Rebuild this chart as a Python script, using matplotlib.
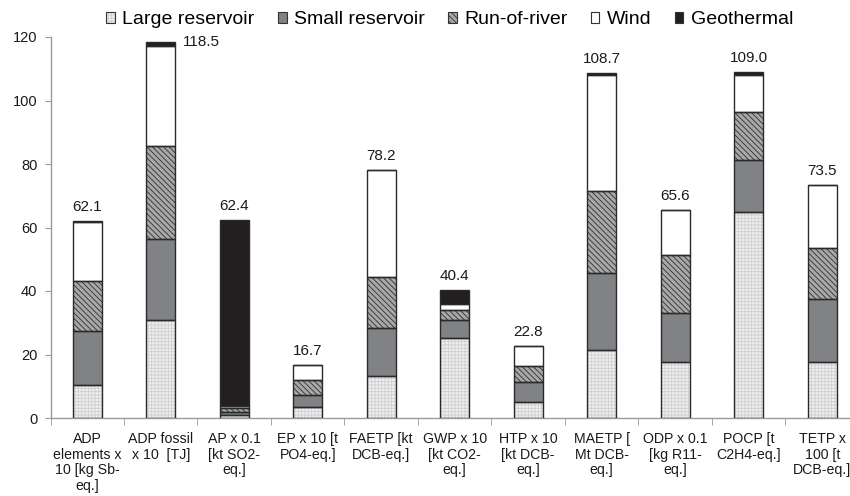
import numpy as np
import matplotlib
matplotlib.use('Agg')
import matplotlib.pyplot as plt
from matplotlib.patches import Patch

plt.rcParams['font.family'] = ['Liberation Sans', 'DejaVu Sans']
plt.rcParams['hatch.linewidth'] = 0.6

categories = [
    'ADP\nelements x\n10 [kg Sb-\neq.]',
    'ADP fossil\nx 10  [TJ]',
    'AP x 0.1\n[kt SO2-\neq.]',
    'EP x 10 [t\nPO4-eq.]',
    'FAETP [kt\nDCB-eq.]',
    'GWP x 10\n[kt CO2-\neq.]',
    'HTP x 10\n[kt DCB-\neq.]',
    'MAETP [\nMt DCB-\neq.]',
    'ODP x 0.1\n[kg R11-\neq.]',
    'POCP [t\nC2H4-eq.]',
    'TETP x\n100 [t\nDCB-eq.]',
]
large_reservoir = [10.3, 31.0, 0.8, 3.6, 13.3, 25.2, 5.0, 21.5, 17.6, 64.9, 17.6]
small_reservoir = [17.0, 25.4, 1.0, 3.8, 15.1, 5.8, 6.3, 24.2, 15.6, 16.3, 19.8]
run_of_river = [15.7, 29.2, 1.2, 4.7, 15.9, 3.1, 5.1, 25.9, 18.0, 15.2, 16.3]
wind = [18.6, 31.6, 0.8, 4.5, 33.9, 1.9, 6.3, 36.5, 14.3, 11.6, 19.7]
geothermal = [0.5, 1.3, 58.6, 0.1, 0.0, 4.4, 0.1, 0.6, 0.1, 1.0, 0.1]

series = [
    ('Large reservoir', large_reservoir, dict(face='#efefef', hatch='+++++', hc='#cfcfcf')),
    ('Small reservoir', small_reservoir, dict(face='#818285', hatch=None, hc=None)),
    ('Run-of-river', run_of_river, dict(face='#a8a8a8', hatch='\\\\\\\\\\\\', hc='#2e2e2e')),
    ('Wind', wind, dict(face='white', hatch=None, hc=None)),
    ('Geothermal', geothermal, dict(face='#231f20', hatch=None, hc=None)),
]

EDGE = '#2a2a2a'
AXC = '#9a9a9a'

fig = plt.figure(figsize=(8.5, 4.96), dpi=100)
ax = fig.add_axes([50.5 / 850, 1 - 418 / 496, 808.5 / 850, 381 / 496])

x = np.arange(len(categories))
width = 0.4
bottom = np.zeros(len(categories))
handles = []
for label, vals, st in series:
    vals = np.array(vals)
    if st['hatch']:
        ax.bar(x, vals, width, bottom=bottom, color=st['face'], edgecolor=st['hc'],
               hatch=st['hatch'], linewidth=0, zorder=2)
        fill = Patch(facecolor=st['face'], edgecolor=st['hc'], hatch=st['hatch'], linewidth=0)
    else:
        ax.bar(x, vals, width, bottom=bottom, color=st['face'], linewidth=0, zorder=2)
        fill = Patch(facecolor=st['face'], linewidth=0)
    ax.bar(x, vals, width, bottom=bottom, fill=False, edgecolor=EDGE, linewidth=1.0, zorder=3)
    outline = Patch(fill=False, edgecolor='#333333', linewidth=0.8)
    handles.append(((fill, outline), label))
    bottom = bottom + vals

# stack totals
for i, tot in enumerate(bottom):
    if i == 1:
        ax.text(i + width / 2 + 0.1, tot, f'{tot:.1f}', ha='left', va='center',
                fontsize=11, color='#1a1a1a')
    else:
        ax.annotate(f'{tot:.1f}', (i, tot), xytext=(0, 5), textcoords='offset points',
                    ha='center', va='bottom', fontsize=11, color='#1a1a1a')

ax.set_xlim(-0.5, len(categories) - 0.5)
ax.set_ylim(0, 120)
ax.set_yticks(range(0, 121, 20))
ax.tick_params(axis='y', length=4.5, color=AXC, labelsize=10.5, labelcolor='#1a1a1a', pad=5)

ax.set_xticks(x)
ax.set_xticklabels(categories, fontsize=10.2, linespacing=1.15, color='#1a1a1a')
ax.set_xticks(np.arange(len(categories) + 1) - 0.5, minor=True)
ax.tick_params(axis='x', which='major', length=0, pad=10)
ax.tick_params(axis='x', which='minor', length=5, color=AXC)

for s in ['top', 'right']:
    ax.spines[s].set_visible(False)
for s in ['left', 'bottom']:
    ax.spines[s].set_color(AXC)
    ax.spines[s].set_linewidth(1.0)

fig.legend([h for h, _ in handles], [l for _, l in handles], loc='center',
           bbox_to_anchor=(0.529, 0.960), ncol=5, frameon=False, fontsize=14,
           handlelength=0.45, handleheight=0.45, handletextpad=0.37, columnspacing=1.2)

fig.savefig('out.png', dpi=100)
